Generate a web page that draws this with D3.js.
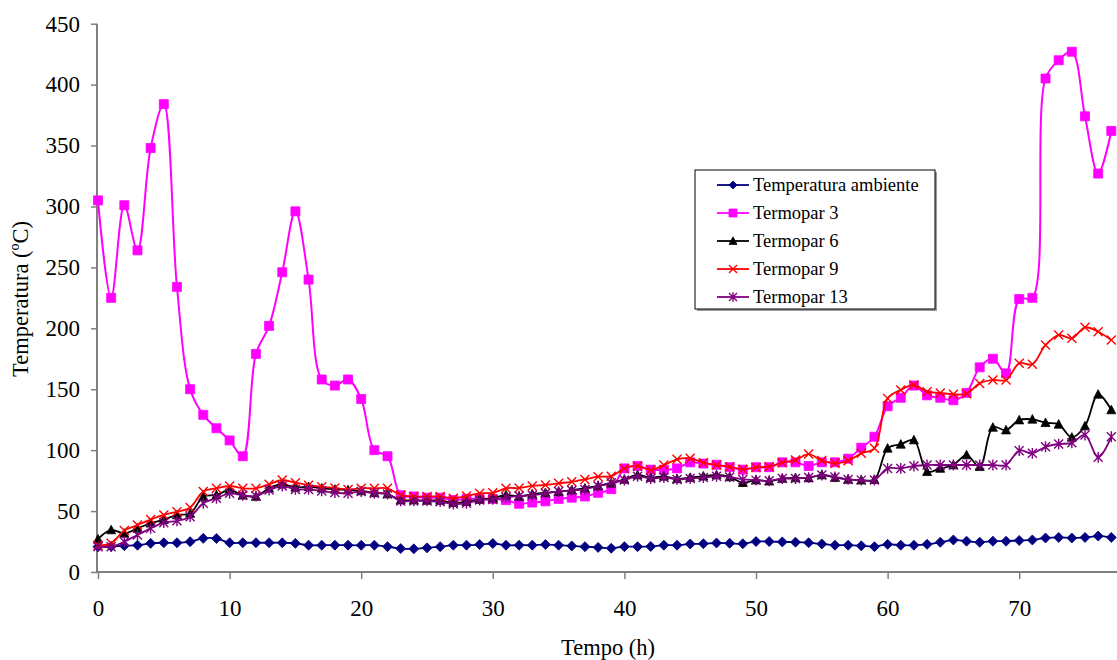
<!DOCTYPE html>
<html>
<head>
<meta charset="utf-8">
<script src="https://cdn.jsdelivr.net/npm/d3@7"></script>
<style>
  html, body { margin: 0; padding: 0; background: #fff; }
  svg { display: block; }
  svg text { font-family: "Times New Roman", "Liberation Serif", Tinos, "DejaVu Serif", serif !important; fill: #000; }
</style>
</head>
<body>
<svg id="chart" width="1117" height="660"></svg>
<script>
// ---- data (hourly readings) ----
const hours = d3.range(0, 78);
const ambiente = [20.8,21,21.6,22,23.5,24,24,24.9,27.6,27.5,24,24,24,24,24,23.5,22,22,22,22,21.9,22,20.8,19.2,19,19.8,20.8,22,22,22.5,23.4,22,22,22,22.5,22,21.4,20.8,20.2,19.5,20.8,20.8,21,22,22,23,23.2,23.8,23.5,23.2,25,25,24.7,24.5,24,23,22,22,21.5,20.8,22.7,22,22,22.7,24.4,26.3,25.3,24.4,25.3,25.3,25.9,26.3,27.9,28.4,27.9,28.4,29.5,28.4];
const termopar3 = [305,225,301,264,348,384,234,150,129,118,108,95,179,202,246,296,240,158,153,158,142,100,95,63,62,61,61,59,60,60,60,59,56,57,58,60,61,62,65,68,85,87,84,84,85,90,89,88,86,84,86,86,90,90,87,90,90,93,102,111,136,143,153,145,143,141,147,168,175,163,224,225,405,420,427,374,327,362];
const termopar6 = [27,34.5,31.7,35.8,40,43,46.8,48,61.8,63.2,67.3,63,62,68.7,72,69.5,70,68.7,67.8,67.3,66.5,65,64,59,59,58.7,58.7,56.9,57.7,59.6,60.5,63.2,62,64,65,66,67.3,68.7,70.6,72.8,76,79.6,77.5,78.5,76.4,77.5,78.6,79.6,78,73.3,75.4,74.6,76.7,77.2,77.2,79.6,77.5,76,75.4,75.8,101.5,104.8,108.3,82.3,85,87.8,96,86.4,118.7,116.5,124.7,125.3,122.5,121.2,110.5,119.8,145.8,133];
const termopar9 = [22,23.5,34,38.6,43,46.8,49.5,53,66,68.7,70.6,68.7,68.7,72,75.5,73.3,71.2,70,69,67.8,68.7,68.7,68.7,63.2,62,62,62,60.5,62.3,64.6,65,68.7,69,70.6,71.4,72.8,74,76,78.2,78.6,85,87,83.7,87.8,92.5,93.3,89.7,87.8,86.4,84.3,85.8,86.4,89.7,92,96.8,91.6,89.2,91.3,97.4,101.5,142.5,149.4,153.5,148,147,145.8,146.3,154.8,157.6,157.6,171.3,170.5,186.3,194.5,191.8,200.8,197.2,190.4];
const termopar13 = [20.8,20.8,24.9,30.4,35.8,40.5,42,45.4,56.4,60.5,64.6,63,62.3,67.3,70.6,67.8,67.8,66.5,65.2,64.6,66,64.6,64,58.3,58.3,58.3,57.7,55.8,56.4,59,59.6,61.3,62.3,63,64.6,66,66.9,67.8,70.6,73.3,75.5,78.6,76.7,77.5,76,76.7,77.5,78.6,78,76,75.4,74.9,76.7,76.7,77.5,79.6,78,76,75.4,75.5,85,85,87,87.8,87.8,87.8,87.8,87.8,87.8,87.8,99.6,97.4,102.8,105,106,112.4,94.1,111];

const seriesNames = ["Temperatura ambiente","Termopar 3","Termopar 6","Termopar 9","Termopar 13"];
const seriesValues = [ambiente, termopar3, termopar6, termopar9, termopar13];
const seriesColors = ["#000080","#FF00FF","#000000","#FF0000","#800080"];
const seriesMarkers = ["diamond","square","triangle","x","star"];

const xTicks = [0,10,20,30,40,50,60,70];
const yTicks = [0,50,100,150,200,250,300,350,400,450];

// ---- layout ----
const FONT = '"Times New Roman", "Liberation Serif", Tinos, "DejaVu Serif", serif';
const svg = d3.select("#chart");
const x = d3.scaleLinear().domain([0, 80]).range([98, 98 + 8 * 131.6]);
const y = d3.scaleLinear().domain([0, 450]).range([572, 23.7]);

// markers
function markerPath(type, s) {
  const h = s / 2;
  switch (type) {
    case "diamond": return `M0,${-h}L${h},0L0,${h}L${-h},0Z`;
    case "square": return `M${-h},${-h}H${h}V${h}H${-h}Z`;
    case "triangle": return `M0,${-h*1.05}L${h},${h*0.85}L${-h},${h*0.85}Z`;
    case "x": return `M${-h},${-h}L${h},${h}M${-h},${h}L${h},${-h}`;
    case "star": return `M${-h},${-h}L${h},${h}M${-h},${h}L${h},${-h}M0,${-h*1.2}V${h*1.2}`;
  }
}
function drawMarker(g, type, color, s) {
  const filled = (type === "diamond" || type === "square" || type === "triangle");
  g.append("path")
    .attr("d", markerPath(type, s))
    .attr("fill", filled ? color : "none")
    .attr("stroke", color)
    .attr("stroke-width", filled ? 0.8 : 1.4);
}

// axes
const axisColor = "#808080";
const yAxis = svg.append("g").attr("transform", `translate(${x(0) - 1},0)`)
  .call(d3.axisLeft(y).tickValues(yTicks).tickSize(6).tickPadding(11).tickFormat(d3.format("d")));
const xAxis = svg.append("g").attr("transform", `translate(0,${y(0)})`)
  .call(d3.axisBottom(x).tickValues(xTicks).tickSize(7).tickPadding(21).tickFormat(d3.format("d")));
[yAxis, xAxis].forEach(a => {
  a.attr("font-family", FONT).attr("font-size", 23);
  a.select(".domain").attr("stroke", axisColor).attr("stroke-width", 2);
  a.selectAll(".tick line").attr("stroke", axisColor).attr("stroke-width", 1.5);
  a.selectAll("text").attr("font-size", 23).attr("fill", "#000").attr("font-family", FONT);
});
xAxis.select(".domain").attr("d", `M${x(0) - 2},0H1117`);
yAxis.select(".domain").attr("d", `M0,${y(450)}V${y(0)}`);

// axis titles
svg.append("text").attr("x", 608).attr("y", 655).attr("text-anchor", "middle")
  .attr("font-family", FONT).attr("font-size", 22.5).text("Tempo (h)");
svg.append("text").attr("transform", "translate(28,299) rotate(-90)").attr("text-anchor", "middle")
  .attr("font-family", FONT).attr("font-size", 22.5).text("Temperatura (ºC)");

// series
const line = d3.line().x((d, i) => x(hours[i])).y(d => y(d)).curve(d3.curveCatmullRom.alpha(0.5));
seriesValues.forEach((vals, si) => {
  const g = svg.append("g");
  g.append("path").datum(vals).attr("d", line).attr("fill", "none")
    .attr("stroke", seriesColors[si]).attr("stroke-width", si === 1 ? 2 : 1.8);
  vals.forEach((v, i) => {
    const m = g.append("g").attr("transform", `translate(${x(hours[i])},${y(v)})`);
    drawMarker(m, seriesMarkers[si], seriesColors[si], si === 0 ? 10 : 9);
  });
});

// legend
const lg = svg.append("g").attr("transform", "translate(695,170)");
lg.append("rect").attr("x", 2).attr("y", 2).attr("width", 240).attr("height", 139).attr("fill", "#9a9a9a");
lg.append("rect").attr("x", 0).attr("y", 0).attr("width", 240).attr("height", 139)
  .attr("fill", "#fff").attr("stroke", "#000").attr("stroke-width", 1);
seriesNames.forEach((name, i) => {
  const cy = 15 + i * 28;
  lg.append("line").attr("x1", 22).attr("x2", 54).attr("y1", cy).attr("y2", cy)
    .attr("stroke", seriesColors[i]).attr("stroke-width", 1.8);
  const m = lg.append("g").attr("transform", `translate(38,${cy})`);
  drawMarker(m, seriesMarkers[i], seriesColors[i], 8);
  lg.append("text").attr("x", 58).attr("y", cy).attr("dy", "0.35em")
    .attr("font-family", FONT).attr("font-size", 18.5).text(name);
});
</script>
</body>
</html>
